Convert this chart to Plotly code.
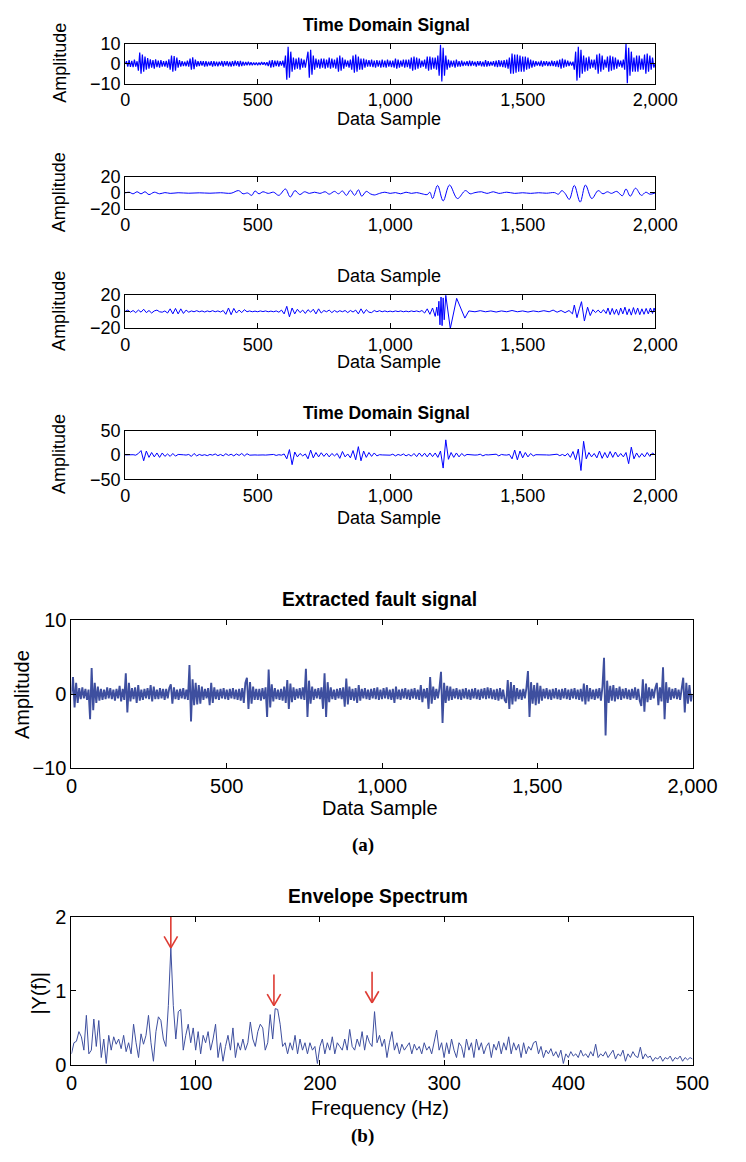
import plotly.graph_objects as go

W, H = 746, 1162

# ---------------- data ----------------
tick_samples = [0, 500, 1000, 1500, 2000]
tick_sample_text = ["0", "500", "1,000", "1,500", "2,000"]

# Time domain signal (raw), every 5th sample
raw_step = 5
raw_signal = [
    0, 1.2, -1.5, 1.8, -1.6, 1.4, -1.8, 2, -1.5, 1.2, -3.5, 5.5, -5, 4.5, -4, 3.5, -3, 2.8, -2.5, 2.2,
    -2, 1.8, -2.5, 2.2, -1.8, 1.5, -2, 1.8, -1.5, 1.3, -1.5, 1.4, -2, 2.2, -3, 4, -4, 3.8, -3.5, 3,
    -2, 1.8, -1.5, 1.3, -1.2, 1, -1.3, 1.5, -1.5, 2.5, -3, 3.2, -2.8, 2, -1.5, 1.2, -1.2, 1.3, -1, 1.2,
    -1.5, 1.2, -1.3, 1, -1, 1.2, -1.5, 1.3, -1.2, 1, -1.3, 1, -1, 1.3, -1.5, 1.2, -1, 1.2, -1.3, 1,
    -1.5, 1.3, -1.2, 1.5, -1, 1.2, -1.5, 1.4, -1.2, 1, -1, 0.8, -0.8, 1, -0.8, 0.7, -0.8, 0.6, -0.7, 0.6,
    -0.8, 0.6, -0.7, 0.8, -0.6, 0.7, -0.8, 0.7, -1.2, 1.5, -2, 1.8, -1.8, 1.5, -1.3, 1.5, -1.5, 1.2, -1, 1.5,
    -2, 4, -8, 8.5, -7, 6, -4, 3, -3, 2.5, -2.5, 3, -3, 2.5, -2, 2, -2, 2.5, 6, -7,
    7, -5.5, 4, -3, 2.5, -2, 2, -2.5, 2.5, -2, 2.5, -2.5, 2, -2, 3, -2.5, 2.5, -2, 2, -2.5,
    3, -4, 4, -3.5, 3, -2.5, 2, -1.5, 1.5, -2, 2, -3, 4, -4.5, 4.5, -4, 3.5, -3, 2.5, -3,
    2.5, -2, 2, -1.5, 1.8, -1.5, 2, -1.8, 1.5, -2, 1.8, -1.5, 1.5, -2, 2, -1.8, 1.5, -2, 2, -1.5,
    1.5, -1.8, 1.5, -2, 2.5, -2.5, 2, -2, 1.5, -1.5, 2, -2, 2, -1.8, 2, -2.5, 3, -3.5, 3.5, -3,
    3, -2.5, 2.5, -2, 1.5, -1.5, 2, -2.5, 3.5, -3.5, 3.5, -3, 3, -2.5, 3, -3, 4, -6, 9.5, -9,
    8, -6, 4, -3, 2, -2, 1.5, -1.5, 1.5, -2, 2, -1.5, 1.2, -1.5, 1.5, -1.2, 1, -1, 1.2, -1.2,
    1.5, -1.2, 1.3, -1, 1, -1.5, 1.2, -1, 1.2, -1.3, 1, -1.5, 1.8, -1.5, 1.2, -1.2, 1, -1, 1.2, -1.5,
    1.5, -1.8, 1.8, -1.5, 1.5, -1.8, 1.8, -2, 2, -2.5, 3, -5, 5, -5, 4.5, -4.5, 4.5, -4, 4, -4,
    3.5, -4, 3.5, -3, 3, -2.5, 2, -2, 1.5, -1.5, 1.2, -1, 1, -1.2, 1.5, -1.5, 1.2, -1, 1.2, -1.2,
    1, -1.2, 1.5, -1.2, 1.2, -1.5, 1.5, -1.8, 2, -2.5, 2.5, -2, 2, -1.5, 1.5, -1.2, 1, -1, 1, -3,
    6, -8.5, 8.5, -7, 7, -5, 4, -4, 3, -3.5, 3.5, -2.5, 2, -2, 2, -3, 4.5, -5, 5, -4,
    4, -3, 2, -2, 3.5, -4, 4, -3.5, 3.5, -3, 3, -2.5, 2, -1.5, 1.5, -2, 2, -3, 10, -10,
    8, -6, 6, -4, 3, -4, 4, -4, 4, -3, 2.5, -3, 4.5, -5, 5, -4, 4, -3, 3, -2,
    0,
]

# Low-frequency component: sample positions of turning points and their values
lowband_samples = [
    0, 15, 30, 45, 60, 75, 90, 110, 130, 150, 170, 200, 240, 280, 320, 360, 400,
    428, 445, 462, 478, 490, 505, 520, 540, 560, 580, 605, 623, 641, 659, 677,
    695, 715, 735, 755, 770, 790, 805, 820, 835, 850, 866, 880, 893, 910, 925,
    940, 960, 980, 1000, 1020, 1040, 1060, 1080, 1100, 1120, 1140, 1150, 1160,
    1179, 1200, 1224, 1254, 1284, 1302, 1320, 1345, 1365, 1390, 1410, 1440,
    1470, 1500, 1530, 1560, 1590, 1620, 1635, 1648, 1660, 1676, 1695, 1717,
    1737, 1761, 1785, 1803, 1820, 1835, 1855, 1876, 1890, 1906, 1926, 1948,
    1965, 1980, 2000,
]
lowband_values = [
    0, 1, -1, 1.5, -1, 1.5, -2, 1, -1, 0.5, -0.5, 0.3, -0.3, 0.2, -0.3, 0.3, -0.3,
    3, -1, 0, -3, 2.5, -1, 1.5, -0.5, 1, -3, 5, -5, 3, -2, 1.5,
    -0.5, 1, -0.5, 1.5, -1.5, 2, -1, 2.5, -3, 3.5, -3, 4, -4, 2, -1,
    -2.5, -0.5, 1, -0.5, 0.5, -1, 1, -0.5, 0.5, -1, -2, 1, -7,
    9.5, -10, 10, -7, 3, -1, 0.5, 1.5, -0.5, 1.5, -0.5, 1,
    -0.5, 0.3, -0.5, 0.3, -0.3, 0.5, -1.5, 3, -0.5, -8, 9.5, -11.5,
    10, -7, 3, -1, 1.5, -0.5, 2, -3.5, 5, -4, 6, -3,
    1, -1.5, 0,
]

# Mid-frequency component: sample positions and values
midband_samples = list(range(0, 1171, 10)) + [
    1176, 1180, 1184, 1188, 1192, 1196, 1200, 1204, 1210, 1227, 1251, 1282, 1297,
    1320, 1340, 1360, 1380, 1400, 1420, 1440, 1460, 1480, 1500, 1520, 1540, 1560,
    1580, 1600, 1615, 1630, 1645, 1660, 1675, 1688, 1695, 1705, 1714, 1722, 1733,
    1745, 1755, 1765, 1775, 1785, 1795, 1805, 1815, 1822, 1830, 1838, 1846, 1854,
    1862, 1870, 1878, 1886, 1894, 1902, 1910, 1918, 1926, 1934, 1942, 1950, 1958,
    1966, 1974, 1982, 1990, 1996, 2000,
]
midband_values = [
    0, 1.5, -1, 1, -1.5, 1.5, -1, 2.5, -1.5, 1,
    -2, 0.5, 1.5, -0.5, -1, 0.5, -2, 3, -3, 3.5,
    -3, 3, -2.5, 1.5, -1, 0.5, -0.5, 0.8, -0.5, 0.5,
    -0.8, 0.5, -0.5, 0.8, -0.5, 0.5, -0.8, 1, -3.5, 4,
    -4, 3.5, -2, 1.5, -1.5, 2, -0.5, 0.5, -0.5, 0.3,
    -0.5, 0.5, -0.3, 0.5, -0.5, 0.3, -0.5, 0.5, -1, 1.5,
    -3, 6, -6.5, 4, -3, 2.5, -1.5, 1.5, -2.5, 2,
    -1, 2.5, -3, 3, -2, 1, -0.5, 1.5, -1.5, 1,
    -1, 0.8, -0.5, 1, -1.5, 1, -0.8, 1.5, -3, 3,
    -2.5, 2, -1, -1.5, 1, -0.5, 0.8, -0.5, 0.5, -0.5,
    0.3, -0.5, 0.5, -0.3, 0.5, -0.5, 0.3, -0.5, 0.5, -0.3,
    0.5, -0.5, 1, -2, 3, -3.5, 4, -6,
    5, -5, 12, -16, 17, -17, 16, -10, 19, -20.5, 15.5, -8, 0.5,
    -0.5, 0.8, -0.5, 0.5, -0.8, 0.5, -0.5, 1, -0.5, 0.5, -0.8, 0.5, -0.5,
    0.8, -0.5, 1.5, -1, 1, -1.5, 1, -3, 7.5, -7.5, 3, 11.5, -11.5,
    5, -5, 2, -1.5, 1.5, -2, 2, -2.5, 4, -4, 3.5, -3.5, 2.5,
    -4.5, 4, -3, 5, -4, 3, -4.5, 4.5, -3.5, 4, -4, 3, -3.5,
    3.5, -3, 4, -2.5, 4, 0,
]

# Impulsive component, every 10th sample
impulse_step = 10
impulse_signal = [
    0, 0.5, -0.5, 0.5, -0.5, 3, 9, -12, 8, -5,
    5, -4, 4, -5, 4, -3, 2, -3, 3, -2.5,
    1, 0, 0.3, -0.3, 1, -3, 3, -2, 1, -1,
    0.5, -1.5, 1, -0.5, 2, -1.5, 1, -2, 2.5, -1,
    1.5, -2, 2, -1, 3, -2, 2.5, -0.5, 0.3, 0,
    -0.3, 0.3, 0, -0.3, 0.5, 0, 1, -1, 0.5, -0.5,
    2, -8, 11, -20, 6, -4, 3, -2, 2, -8,
    10, -6, 5, -4, 4.5, -3, 3.5, -4, 3, -2,
    3, -7, 7, -4, 2, -6, 9, -10, 17, -12,
    8, -5, 5, -3, 4, -2, 0.5, 0, -0.3, 0.3,
    -0.5, 1.5, -2, 1, -1, 2, -2, 1, -2.5, 3,
    -3.5, 4, -3, 3.5, -4, 4, -3.5, 4, -5, 8,
    -27, 31, -9, 5, -5, 4, -4, 3, -2, 1,
    0.3, 0, -0.3, 0, 1.5, -2, 0.5, 0, 0.3, -0.3,
    1.5, -2, 1, 0, -0.3, 1, -8, 10, -10, 8,
    -6, 5, -4, 3, -2, 0.5, 0, -0.3, 0.3, 0,
    -0.3, 0.3, 0, 1.5, -1.5, 1, -2, 3, -5, 7,
    -10, 12, -32, 28, -8, 5, -4, 3, -6, 8,
    -7, 5, -6, 7, -5, 6, -4, 3, -4, 5,
    -18, 16, -8, 4, -5, 3, -4, 5, -3, 4,
    0,
]

# Extracted fault signal, every 5th sample
fault_step = 5
fault_signal = [
    0, 2.3, -1.8, 1.5, -1.2, 0.8, -0.7, 0.9, -0.6, 0.7, -0.8, 0.6, -3.4, 3.5, -2.2, 1.5, -1.2, 1.0, -0.9, 0.7,
    -0.8, 0.6, -0.7, 0.9, -0.6, 0.8, -0.7, 0.6, -0.9, 0.7, -0.6, 1.1, -1.0, 0.7, -0.8, 2.8, -2.5, 1.5, -1.0, 0.8,
    -0.7, 0.9, -1.2, 1.2, -0.9, 0.6, -0.8, 0.7, -0.6, 0.8, -0.7, 1.2, -1.0, 1.0, -0.7, 0.6, -0.7, 0.8, -0.6, 0.7,
    -0.8, 0.7, -0.6, 0.8, 1.3, -1.3, 0.9, -0.7, 0.6, -0.8, 0.7, -0.6, 0.8, -0.7, 0.6, -0.8, 3.9, -3.7, 2.0, -1.5,
    1.5, -1.4, 1.2, -1.3, 1.0, -0.8, 0.7, -0.6, 0.8, -1.5, 1.5, -1.2, 0.9, -0.7, 0.6, -0.8, 0.7, -0.6, 0.8, -0.7,
    0.6, -0.8, 0.7, -0.6, 0.8, -0.7, 0.6, -0.8, 0.7, -0.9, 0.8, -1.2, 1.5, 2.2, -2.0, 1.6, -1.3, 1.0, -0.8, 0.7,
    -0.8, 0.7, -0.9, 0.8, -0.7, 0.9, -3.1, 3.3, -1.8, 1.3, -1.0, 0.8, -0.7, 0.6, -0.8, 0.7, -0.9, 1.0, -1.2, 1.9,
    -2.0, 1.4, -1.1, 0.9, -0.8, 0.7, -0.6, 0.8, -0.7, 0.9, -0.8, 3.4, -3.1, 1.8, -1.3, 1.0, -0.8, 0.7, -0.6, 0.8,
    -0.7, 0.9, -2.0, 2.8, -3.1, 1.6, -1.1, 0.9, -0.7, 0.6, -0.8, 0.7, -0.6, 0.8, -0.7, 0.9, -1.7, 2.1, -1.4, 1.0,
    -0.8, 0.7, -0.9, 0.8, -1.2, 1.2, -0.9, 0.7, -0.6, 0.8, -0.7, 0.6, -0.8, 0.7, -0.6, 0.8, -0.7, 0.9, -0.8, 0.6,
    -0.7, 0.8, -0.6, 0.9, -0.7, 0.6, -0.8, 0.7, -1.2, 1.0, -0.7, 0.6, -0.8, 0.7, -0.6, 0.8, -0.7, 0.6, -0.8, 0.7,
    -0.6, 0.8, -0.7, 0.6, -0.8, 1.2, -1.1, 0.7, -0.6, 0.8, -2.0, 2.3, -1.3, 1.0, -0.8, 0.7, -0.6, 0.8, 3.0, -3.9,
    1.5, -1.2, 1.1, -0.9, 1.0, -0.8, 0.7, -0.6, 0.8, -0.7, 0.6, -0.8, 0.7, -0.6, 0.8, -0.7, 0.6, -0.8, 0.7, -0.6,
    0.8, -0.7, 0.6, -0.8, 0.7, -0.6, 0.8, -0.7, 0.9, -0.6, 0.8, -0.7, 0.6, -0.8, 0.7, -0.9, 0.8, -0.7, 0.6, -0.8,
    -1.2, 1.9, -2.0, 1.6, -1.4, 1.2, -1.0, 0.8, -0.7, 0.6, -0.8, 0.7, -0.6, 0.8, 3.1, -3.1, 1.6, -1.3, 1.2, -1.5,
    1.5, -1.3, 1.1, -0.9, 0.7, -0.6, 0.8, -0.7, 0.6, -0.8, 0.7, -0.6, 0.8, -0.7, 0.6, -0.8, 0.7, -0.6, 0.8, -0.7,
    0.6, -0.8, 0.7, -0.6, 0.8, -0.7, 0.6, -0.8, 0.7, -1.0, 1.4, -1.4, 1.2, -1.0, 0.8, -0.7, 0.6, -0.8, 0.7, -0.6,
    0.8, -0.9, 1.0, 4.9, -5.6, 1.8, -1.2, 1.1, -0.9, 1.2, -1.0, 0.8, -0.7, 1.0, -0.8, 0.7, -0.6, 0.8, -0.7, 0.6,
    -0.8, 0.7, -0.6, 0.9, -0.8, 0.7, -0.9, -1.6, 2.0, -2.4, 1.4, -1.1, 0.9, -0.8, 0.7, -0.6, 0.8, 1.5, -1.5, 0.9,
    -1.0, 3.6, -3.4, 1.6, -1.2, 0.9, -0.8, 0.7, -0.6, 0.8, -0.7, 0.6, -0.8, 0.7, 2.2, -2.5, 1.5, -1.3, 1.2, -1.0,
    0.0,
]

# Envelope spectrum, 2 Hz bins from 0 to 500 Hz
freq_step = 2
envelope_amp = [
    0.15, 0.3, 0.32, 0.45, 0.38, 0.2, 0.67, 0.15, 0.2, 0.62, 0.25, 0.6, 0.1, 0.35, 0.02, 0.4, 0.2, 0.38, 0.28, 0.35,
    0.22, 0.4, 0.18, 0.3, 0.15, 0.55, 0.3, 0.1, 0.42, 0.28, 0.4, 0.67, 0.3, 0.05, 0.45, 0.65, 0.6, 0.35, 0.25, 0.8,
    1.58, 0.8, 0.35, 0.72, 0.75, 0.2, 0.4, 0.55, 0.3, 0.5, 0.2, 0.45, 0.15, 0.4, 0.3, 0.45, 0.2, 0.35, 0.55, 0.1,
    0.3, 0.05, 0.25, 0.4, 0.2, 0.5, 0.1, 0.3, 0.2, 0.35, 0.2, 0.3, 0.58, 0.35, 0.25, 0.45, 0.55, 0.5, 0.2, 0.3,
    0.68, 0.35, 0.76, 0.75, 0.55, 0.25, 0.3, 0.15, 0.3, 0.2, 0.4, 0.15, 0.35, 0.2, 0.3, 0.15, 0.3, 0.2, 0.25, 0.02,
    0.25, 0.35, 0.15, 0.3, 0.2, 0.38, 0.15, 0.3, 0.25, 0.2, 0.35, 0.2, 0.48, 0.25, 0.2, 0.35, 0.25, 0.45, 0.2, 0.4,
    0.3, 0.25, 0.72, 0.3, 0.4, 0.25, 0.35, 0.1, 0.3, 0.45, 0.2, 0.3, 0.15, 0.28, 0.2, 0.25, 0.3, 0.15, 0.28, 0.2,
    0.25, 0.15, 0.3, 0.2, 0.25, 0.15, 0.3, 0.47, 0.2, 0.3, 0.1, 0.3, 0.15, 0.35, 0.2, 0.1, 0.3, 0.25, 0.1, 0.35,
    0.2, 0.3, 0.1, 0.35, 0.2, 0.3, 0.15, 0.25, 0.3, 0.1, 0.28, 0.2, 0.32, 0.15, 0.3, 0.2, 0.38, 0.15, 0.3, 0.2,
    0.28, 0.1, 0.3, 0.15, 0.25, 0.2, 0.3, 0.32, 0.15, 0.25, 0.1, 0.2, 0.15, 0.22, 0.12, 0.18, 0.1, 0.2, 0.02, 0.15,
    0.1, 0.18, 0.12, 0.15, 0.1, 0.2, 0.12, 0.15, 0.1, 0.18, 0.12, 0.28, 0.1, 0.15, 0.12, 0.18, 0.1, 0.15, 0.2, 0.08,
    0.15, 0.12, 0.2, 0.05, 0.15, 0.1, 0.18, 0.12, 0.1, 0.24, 0.08, 0.15, 0.1, 0.12, 0.05, 0.1, 0.08, 0.12, 0.05, 0.1,
    0.08, 0.12, 0.05, 0.1, 0.08, 0.12, 0.05, 0.1, 0.07, 0.1, 0.08,
]
freq_ticks = [0, 100, 200, 300, 400, 500]

# Fault characteristic frequencies marked with arrows
arrow_freq = [80, 163, 242]
arrow_tip = [1.58, 0.80, 0.84]
arrow_tail = [2.0, 1.22, 1.26]

# ---------------- styling ----------------
SANS = "Liberation Sans, Arial, Helvetica, sans-serif"
SERIF = "Liberation Serif, Times New Roman, serif"
PURE_BLUE = "#0000ff"
MUTED_BLUE = "#3e4f9f"
ARROW_RED = "#de3b33"


def px_x(x):
    return x / W


def px_y(y):
    return 1 - y / H


# plot boxes in pixels: (left, right, top, bottom)
boxes = {
    1: (124.3, 677.3, 33.3, 74.0),
    2: (124.3, 677.3, 169.3, 201.7),
    3: (124.3, 677.3, 289.0, 323.3),
    4: (124.3, 677.3, 427.7, 477.3),
    5: (68.3, 716.3, 620.7, 771.7),
    6: (68.3, 716.3, 923.3, 1074.3),
}

fig = go.Figure()


def xs(step, n):
    return [i * step for i in range(n)]


fig.add_trace(go.Scatter(x=xs(raw_step, len(raw_signal)), y=raw_signal, mode="lines",
                         line=dict(color=PURE_BLUE, width=1.2), xaxis="x", yaxis="y"))
fig.add_trace(go.Scatter(x=lowband_samples, y=lowband_values, mode="lines",
                         line=dict(color=PURE_BLUE, width=1, shape="spline", smoothing=1.0),
                         xaxis="x2", yaxis="y2"))
fig.add_trace(go.Scatter(x=midband_samples, y=midband_values, mode="lines",
                         line=dict(color=PURE_BLUE, width=1), xaxis="x3", yaxis="y3"))
fig.add_trace(go.Scatter(x=xs(impulse_step, len(impulse_signal)), y=impulse_signal, mode="lines",
                         line=dict(color=PURE_BLUE, width=1), xaxis="x4", yaxis="y4"))
fig.add_trace(go.Scatter(x=xs(fault_step, len(fault_signal)), y=fault_signal, mode="lines",
                         line=dict(color=MUTED_BLUE, width=1.9), xaxis="x5", yaxis="y5"))
fig.add_trace(go.Scatter(x=xs(freq_step, len(envelope_amp)), y=envelope_amp, mode="lines",
                         line=dict(color=MUTED_BLUE, width=1), xaxis="x6", yaxis="y6"))

y_setup = {
    1: ([-10, 10], [-10, 0, 10]),
    2: ([-20, 20], [-20, 0, 20]),
    3: ([-20, 20], [-20, 0, 20]),
    4: ([-50, 50], [-50, 0, 50]),
    5: ([-10, 10], [-10, 0, 10]),
    6: ([0, 2], [0, 1, 2]),
}

layout = {}
for k, (l, r, t, b) in boxes.items():
    fs = 18 if k <= 4 else 20
    common = dict(showline=True, linecolor="black", linewidth=1, mirror="ticks",
                  ticks="inside", ticklen=5, tickcolor="black", tickwidth=1,
                  showgrid=False, zeroline=False,
                  tickfont=dict(family=SANS, size=fs, color="black"))
    xname = "xaxis" if k == 1 else f"xaxis{k}"
    yname = "yaxis" if k == 1 else f"yaxis{k}"
    if k == 6:
        xticks = dict(range=[0, 500], tickvals=freq_ticks,
                      ticktext=[str(v) for v in freq_ticks])
    else:
        xticks = dict(range=[0, 2000], tickvals=tick_samples, ticktext=tick_sample_text)
    yr, yt = y_setup[k]
    layout[xname] = dict(domain=[px_x(l), px_x(r)], anchor=f"y{k}" if k > 1 else "y",
                         **xticks, **common)
    layout[yname] = dict(domain=[px_y(b), px_y(t)], anchor=f"x{k}" if k > 1 else "x",
                         range=yr, tickvals=yt, **common)

annotations = []


def label(x, y, text, size, bold=False, angle=0, family=SANS):
    annotations.append(dict(
        x=px_x(x), y=px_y(y), xref="paper", yref="paper", showarrow=False,
        text=f"<b>{text}</b>" if bold else text, textangle=angle,
        xanchor="center", yanchor="middle",
        font=dict(family=family, size=size, color="black")))


# titles
label(397, 14, "Time Domain Signal", 17.5, bold=True)
label(397, 410, "Time Domain Signal", 17.5, bold=True)
label(390, 600, "Extracted fault signal", 19.3, bold=True)
label(388, 903, "Envelope Spectrum", 19.3, bold=True)

# x axis titles
label(400, 110, "Data Sample", 18)
label(400, 270, "Data Sample", 18)
label(400, 358, "Data Sample", 18)
label(400, 517, "Data Sample", 18)
label(390, 812, "Data Sample", 20)
label(390, 1118, "Frequency (Hz)", 20)

# y axis titles
label(56, 53, "Amplitude", 18, angle=-90)
label(56, 185, "Amplitude", 18, angle=-90)
label(56, 306, "Amplitude", 18, angle=-90)
label(56, 452, "Amplitude", 18, angle=-90)
label(17, 697, "Amplitude", 20, angle=-90)
label(35, 1001, "|Y(f)|", 20, angle=-90)

# panel captions
label(372, 850, "(a)", 19, bold=True, family=SERIF)
label(372, 1147, "(b)", 19, bold=True, family=SERIF)

shapes = []
wing_dx, wing_dy = 5.4, 0.155
for f, tip, tail in zip(arrow_freq, arrow_tip, arrow_tail):
    style = dict(type="line", xref="x6", yref="y6", line=dict(color=ARROW_RED, width=1.6))
    shapes.append(dict(x0=f, y0=tail, x1=f, y1=tip, **style))
    shapes.append(dict(x0=f - wing_dx, y0=tip + wing_dy, x1=f, y1=tip, **style))
    shapes.append(dict(x0=f + wing_dx, y0=tip + wing_dy, x1=f, y1=tip, **style))

fig.update_layout(
    width=W, height=H, margin=dict(l=0, r=0, t=0, b=0),
    paper_bgcolor="white", plot_bgcolor="white", showlegend=False,
    annotations=annotations, shapes=shapes, **layout,
)

fig.write_html("out.html")
